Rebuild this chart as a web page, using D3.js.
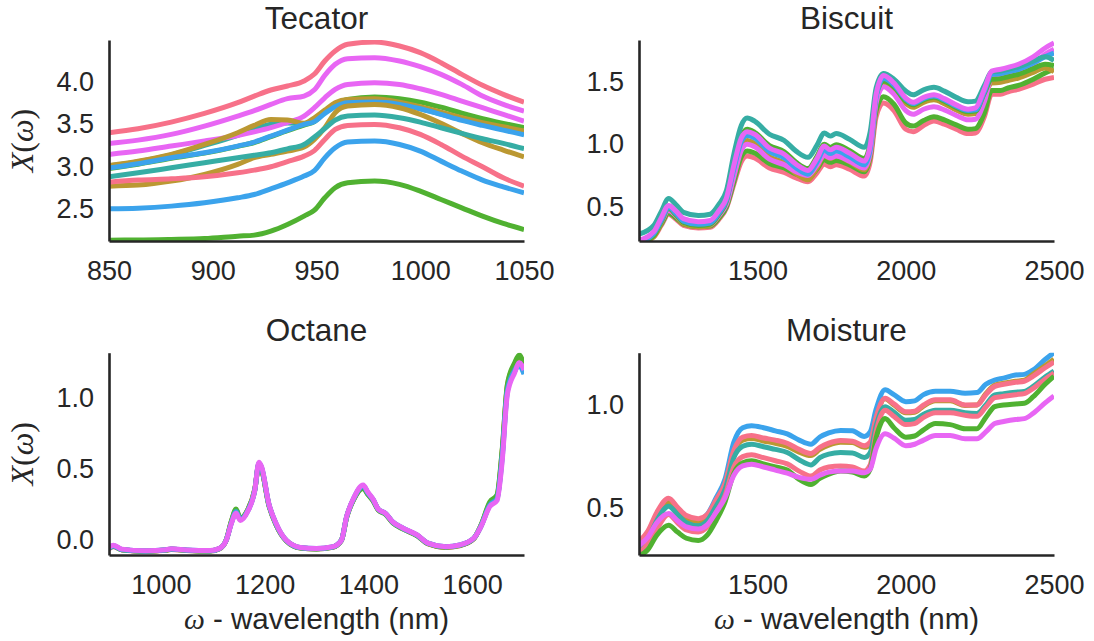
<!DOCTYPE html>
<html>
<head>
<meta charset="utf-8">
<script src="https://cdn.jsdelivr.net/npm/d3@7"></script>
<style>
  body { margin: 0; background: #fff; }
  svg { display: block; }
  text { fill: #262626; font-family: "Liberation Sans", Arial, sans-serif; }
</style>
</head>
<body>
<svg id="chart" width="1094" height="641"></svg>
<script>
// husl palette, six hues
const palette = {
  red: "#f77189", olive: "#bb9832", green: "#50b131",
  teal: "#36ada4", blue: "#3ba3ec", magenta: "#e866f4"
};

// ---------------- Tecator (850-1050 nm) ----------------
const tecatorWavelengths = [850, 864, 880, 896, 912, 920, 928, 936, 944, 949, 954, 959, 965, 978, 990, 1000, 1010, 1020, 1030, 1040, 1050];
const tecatorTealA  = [3.01, 3.06, 3.14, 3.25, 3.37, 3.44, 3.50, 3.515, 3.505, 3.55, 3.64, 3.72, 3.76, 3.765, 3.73, 3.68, 3.62, 3.555, 3.495, 3.44, 3.385];
const tecatorGreenA = [2.98, 3.03, 3.10, 3.16, 3.24, 3.285, 3.355, 3.425, 3.49, 3.53, 3.64, 3.73, 3.79, 3.82, 3.80, 3.76, 3.70, 3.63, 3.565, 3.51, 3.459];
const tecatorRedA   = [3.40, 3.447, 3.525, 3.627, 3.753, 3.83, 3.902, 3.949, 4.008, 4.09, 4.243, 4.361, 4.439, 4.466, 4.419, 4.341, 4.223, 4.086, 3.957, 3.851, 3.76];
const tecatorMagA   = [3.274, 3.313, 3.38, 3.478, 3.596, 3.66, 3.733, 3.80, 3.831, 3.905, 4.074, 4.204, 4.27, 4.282, 4.243, 4.176, 4.086, 3.968, 3.831, 3.733, 3.655];
const tecatorMagB   = [3.145, 3.184, 3.243, 3.302, 3.368, 3.41, 3.459, 3.52, 3.596, 3.694, 3.811, 3.909, 3.968, 3.988, 3.968, 3.917, 3.851, 3.772, 3.694, 3.615, 3.537];
const tecatorOliveA = [3.015, 3.066, 3.145, 3.262, 3.40, 3.486, 3.555, 3.55, 3.51, 3.576, 3.666, 3.753, 3.792, 3.80, 3.76, 3.706, 3.643, 3.576, 3.517, 3.47, 3.42];
const tecatorBlueA  = [2.984, 3.035, 3.105, 3.164, 3.243, 3.29, 3.36, 3.43, 3.498, 3.53, 3.627, 3.706, 3.753, 3.76, 3.733, 3.682, 3.615, 3.545, 3.486, 3.431, 3.376];
const tecatorOliveB = [2.772, 2.784, 2.831, 2.909, 3.027, 3.106, 3.145, 3.184, 3.231, 3.321, 3.458, 3.635, 3.713, 3.733, 3.694, 3.615, 3.51, 3.392, 3.282, 3.196, 3.117];
const tecatorTealB  = [2.882, 2.929, 2.988, 3.047, 3.106, 3.135, 3.164, 3.21, 3.262, 3.35, 3.45, 3.549, 3.596, 3.608, 3.576, 3.525, 3.458, 3.392, 3.329, 3.274, 3.212];
const tecatorRedB   = [2.819, 2.843, 2.858, 2.882, 2.929, 2.96, 3.0, 3.06, 3.125, 3.19, 3.321, 3.439, 3.486, 3.498, 3.458, 3.38, 3.262, 3.125, 3.0, 2.87, 2.772];
const tecatorBlueB  = [2.505, 2.513, 2.537, 2.576, 2.635, 2.674, 2.741, 2.811, 2.89, 2.955, 3.105, 3.223, 3.29, 3.302, 3.262, 3.184, 3.066, 2.949, 2.843, 2.764, 2.694];
const tecatorGreenB = [2.137, 2.138, 2.145, 2.156, 2.184, 2.196, 2.243, 2.321, 2.419, 2.49, 2.635, 2.753, 2.811, 2.831, 2.792, 2.713, 2.615, 2.517, 2.419, 2.333, 2.262];
const tecatorSpectra = [tecatorTealA, tecatorGreenA, tecatorRedA, tecatorMagA, tecatorMagB, tecatorOliveA, tecatorBlueA, tecatorOliveB, tecatorTealB, tecatorRedB, tecatorBlueB, tecatorGreenB];
const tecatorColors  = ["teal", "green", "red", "magenta", "magenta", "olive", "blue", "olive", "teal", "red", "blue", "green"];
const tecatorXTicks = [850, 900, 950, 1000, 1050];
const tecatorYTicks = [2.5, 3.0, 3.5, 4.0];

// ---------------- Biscuit (1100-2500 nm) ----------------
const biscuitWavelengths = [1100, 1150, 1175, 1200, 1225, 1250, 1300, 1340, 1370, 1395, 1420, 1445, 1465, 1490, 1540, 1590, 1630, 1670, 1700, 1725, 1745, 1765, 1810, 1860, 1880, 1900, 1925, 1960, 2000, 2025, 2060, 2095, 2130, 2170, 2210, 2235, 2265, 2290, 2320, 2345, 2380, 2430, 2470, 2500];
const biscuitRed    = [0.22, 0.26, 0.35, 0.44, 0.40, 0.35, 0.33, 0.335, 0.40, 0.49, 0.68, 0.86, 0.905, 0.89, 0.81, 0.775, 0.73, 0.70, 0.77, 0.84, 0.82, 0.835, 0.80, 0.745, 0.86, 1.22, 1.33, 1.27, 1.12, 1.10, 1.15, 1.185, 1.16, 1.12, 1.085, 1.09, 1.22, 1.40, 1.40, 1.42, 1.44, 1.48, 1.52, 1.535];
const biscuitGreenB = [0.225, 0.27, 0.36, 0.45, 0.41, 0.36, 0.34, 0.345, 0.41, 0.50, 0.70, 0.90, 0.945, 0.93, 0.845, 0.81, 0.76, 0.73, 0.80, 0.875, 0.855, 0.87, 0.835, 0.78, 0.90, 1.27, 1.38, 1.32, 1.17, 1.145, 1.19, 1.22, 1.195, 1.155, 1.12, 1.125, 1.25, 1.43, 1.43, 1.45, 1.47, 1.52, 1.57, 1.60];
const biscuitOlive  = [0.20, 0.26, 0.37, 0.475, 0.425, 0.365, 0.34, 0.35, 0.43, 0.535, 0.75, 0.97, 1.03, 1.005, 0.90, 0.85, 0.765, 0.715, 0.81, 0.91, 0.885, 0.905, 0.86, 0.795, 0.92, 1.36, 1.495, 1.44, 1.325, 1.295, 1.335, 1.355, 1.325, 1.275, 1.24, 1.245, 1.38, 1.49, 1.495, 1.51, 1.53, 1.575, 1.61, 1.58];
const biscuitMagB   = [0.23, 0.28, 0.38, 0.47, 0.43, 0.375, 0.355, 0.36, 0.43, 0.52, 0.74, 0.95, 1.0, 0.98, 0.88, 0.835, 0.78, 0.75, 0.83, 0.91, 0.89, 0.905, 0.865, 0.81, 0.93, 1.33, 1.46, 1.40, 1.27, 1.24, 1.28, 1.30, 1.275, 1.23, 1.195, 1.20, 1.34, 1.53, 1.54, 1.555, 1.58, 1.64, 1.72, 1.76];
const biscuitGreenA = [0.21, 0.27, 0.38, 0.485, 0.435, 0.375, 0.35, 0.36, 0.44, 0.545, 0.83, 1.06, 1.12, 1.095, 0.99, 0.94, 0.855, 0.805, 0.90, 1.0, 0.975, 0.995, 0.95, 0.885, 1.01, 1.39, 1.505, 1.46, 1.345, 1.315, 1.355, 1.375, 1.345, 1.295, 1.26, 1.265, 1.41, 1.52, 1.525, 1.54, 1.56, 1.605, 1.64, 1.63];
const biscuitBlue   = [0.215, 0.285, 0.39, 0.495, 0.445, 0.385, 0.36, 0.37, 0.45, 0.555, 0.80, 1.02, 1.07, 1.05, 0.94, 0.89, 0.81, 0.76, 0.855, 0.955, 0.925, 0.945, 0.90, 0.835, 0.96, 1.38, 1.525, 1.475, 1.36, 1.325, 1.365, 1.385, 1.355, 1.305, 1.27, 1.275, 1.42, 1.56, 1.565, 1.58, 1.60, 1.65, 1.70, 1.73];
const biscuitTeal   = [0.28, 0.35, 0.46, 0.565, 0.515, 0.455, 0.43, 0.44, 0.52, 0.63, 0.92, 1.15, 1.21, 1.185, 1.08, 1.03, 0.945, 0.895, 0.99, 1.09, 1.065, 1.085, 1.04, 0.975, 1.10, 1.45, 1.565, 1.52, 1.425, 1.395, 1.435, 1.455, 1.425, 1.375, 1.34, 1.345, 1.47, 1.58, 1.585, 1.60, 1.62, 1.665, 1.70, 1.67];
const biscuitMagA   = [0.23, 0.30, 0.41, 0.51, 0.465, 0.405, 0.38, 0.39, 0.47, 0.57, 0.83, 1.05, 1.10, 1.08, 0.97, 0.92, 0.84, 0.79, 0.885, 0.985, 0.955, 0.975, 0.93, 0.865, 0.99, 1.40, 1.55, 1.49, 1.37, 1.335, 1.375, 1.395, 1.365, 1.315, 1.28, 1.29, 1.44, 1.585, 1.60, 1.615, 1.64, 1.70, 1.77, 1.81];
const biscuitSpectra = [biscuitRed, biscuitGreenB, biscuitOlive, biscuitMagB, biscuitGreenA, biscuitBlue, biscuitTeal, biscuitMagA];
const biscuitColors  = ["red", "green", "olive", "magenta", "green", "blue", "teal", "magenta"];
const biscuitXTicks = [1500, 2000, 2500];
const biscuitYTicks = [0.5, 1.0, 1.5];

// ---------------- Octane (900-1700 nm) ----------------
const octaneWavelengths = [900, 908, 925, 970, 1010, 1020, 1050, 1095, 1113, 1126, 1136, 1145, 1153, 1167, 1181, 1189, 1194, 1208, 1222, 1242, 1269, 1300, 1331, 1348, 1358, 1372, 1390, 1399, 1409, 1419, 1433, 1447, 1467, 1494, 1515, 1549, 1576, 1603, 1617, 1634, 1648, 1658, 1668, 1682, 1691, 1700];
const octaneRed     = [-0.06, -0.045, -0.068, -0.078, -0.07, -0.065, -0.072, -0.076, -0.06, 0.0, 0.13, 0.21, 0.15, 0.21, 0.36, 0.53, 0.50, 0.25, 0.11, -0.005, -0.055, -0.062, -0.05, -0.002, 0.16, 0.29, 0.37, 0.325, 0.28, 0.215, 0.185, 0.125, 0.08, 0.033, -0.025, -0.05, -0.038, 0.01, 0.10, 0.25, 0.30, 0.62, 1.08, 1.22, 1.28, 1.21];
const octaneOlive   = [-0.055, -0.04, -0.066, -0.076, -0.068, -0.062, -0.07, -0.074, -0.058, 0.003, 0.135, 0.215, 0.152, 0.212, 0.36, 0.535, 0.505, 0.252, 0.112, -0.003, -0.053, -0.06, -0.048, 0.0, 0.162, 0.292, 0.372, 0.328, 0.282, 0.218, 0.187, 0.127, 0.082, 0.035, -0.022, -0.048, -0.036, 0.012, 0.105, 0.26, 0.31, 0.63, 1.09, 1.24, 1.30, 1.22];
const octaneGreen   = [-0.058, -0.042, -0.067, -0.077, -0.069, -0.063, -0.071, -0.075, -0.059, 0.002, 0.135, 0.22, 0.155, 0.21, 0.355, 0.53, 0.50, 0.25, 0.11, -0.004, -0.054, -0.061, -0.049, -0.001, 0.16, 0.29, 0.365, 0.322, 0.277, 0.213, 0.183, 0.123, 0.079, 0.032, -0.024, -0.049, -0.037, 0.011, 0.105, 0.27, 0.32, 0.64, 1.10, 1.25, 1.305, 1.22];
const octaneTeal    = [-0.056, -0.04, -0.066, -0.076, -0.068, -0.062, -0.07, -0.074, -0.058, 0.001, 0.125, 0.205, 0.148, 0.205, 0.352, 0.54, 0.51, 0.255, 0.115, -0.002, -0.052, -0.059, -0.047, 0.0, 0.163, 0.295, 0.38, 0.332, 0.286, 0.218, 0.188, 0.128, 0.083, 0.036, -0.021, -0.046, -0.034, 0.013, 0.10, 0.25, 0.295, 0.60, 1.06, 1.20, 1.24, 1.18];
const octaneBlue    = [-0.054, -0.038, -0.065, -0.075, -0.067, -0.061, -0.069, -0.073, -0.057, 0.001, 0.122, 0.198, 0.145, 0.203, 0.352, 0.545, 0.515, 0.258, 0.117, -0.001, -0.051, -0.058, -0.046, 0.001, 0.165, 0.298, 0.385, 0.335, 0.288, 0.22, 0.19, 0.13, 0.085, 0.037, -0.02, -0.045, -0.033, 0.014, 0.098, 0.245, 0.29, 0.58, 1.05, 1.19, 1.23, 1.17];
const octaneMagenta = [-0.05, -0.034, -0.062, -0.073, -0.066, -0.06, -0.068, -0.072, -0.057, 0.0, 0.12, 0.19, 0.14, 0.20, 0.35, 0.55, 0.52, 0.26, 0.12, 0.0, -0.05, -0.057, -0.045, 0.0, 0.166, 0.30, 0.39, 0.34, 0.29, 0.22, 0.19, 0.13, 0.085, 0.038, -0.02, -0.045, -0.033, 0.014, 0.096, 0.237, 0.28, 0.56, 1.03, 1.18, 1.25, 1.20];
const octaneSpectra = [octaneRed, octaneOlive, octaneGreen, octaneTeal, octaneBlue, octaneMagenta];
const octaneColors  = ["red", "olive", "green", "teal", "blue", "magenta"];
const octaneXTicks = [1000, 1200, 1400, 1600];
const octaneYTicks = [0.0, 0.5, 1.0];

// ---------------- Moisture (1100-2500 nm) ----------------
const moistureWavelengths = [1100, 1130, 1160, 1200, 1230, 1260, 1300, 1330, 1360, 1390, 1420, 1450, 1480, 1520, 1560, 1600, 1640, 1680, 1710, 1740, 1780, 1820, 1860, 1880, 1900, 1930, 1960, 2000, 2030, 2060, 2100, 2150, 2200, 2240, 2270, 2300, 2330, 2370, 2400, 2430, 2470, 2500];
const moistureBlue    = [0.33, 0.38, 0.47, 0.545, 0.50, 0.46, 0.445, 0.47, 0.55, 0.64, 0.82, 0.89, 0.90, 0.89, 0.875, 0.86, 0.83, 0.81, 0.845, 0.865, 0.877, 0.875, 0.848, 0.87, 0.98, 1.074, 1.05, 1.016, 1.02, 1.05, 1.066, 1.066, 1.057, 1.06, 1.10, 1.12, 1.13, 1.145, 1.148, 1.17, 1.22, 1.254];
const moistureOlive   = [0.325, 0.375, 0.465, 0.532, 0.49, 0.45, 0.435, 0.46, 0.53, 0.615, 0.775, 0.83, 0.838, 0.826, 0.815, 0.80, 0.772, 0.755, 0.785, 0.806, 0.82, 0.818, 0.795, 0.81, 0.935, 1.03, 1.0, 0.962, 0.965, 0.995, 1.02, 1.02, 0.998, 1.0, 1.055, 1.095, 1.105, 1.115, 1.12, 1.15, 1.19, 1.221];
const moistureRedA    = [0.34, 0.39, 0.48, 0.549, 0.505, 0.465, 0.45, 0.47, 0.54, 0.62, 0.78, 0.845, 0.852, 0.84, 0.83, 0.815, 0.785, 0.765, 0.795, 0.815, 0.828, 0.825, 0.803, 0.82, 0.94, 1.033, 1.005, 0.967, 0.97, 1.0, 1.025, 1.025, 1.0, 1.0, 1.05, 1.09, 1.10, 1.11, 1.115, 1.14, 1.18, 1.208];
const moistureTeal    = [0.30, 0.35, 0.44, 0.51, 0.47, 0.43, 0.415, 0.44, 0.51, 0.59, 0.745, 0.80, 0.81, 0.798, 0.785, 0.77, 0.735, 0.71, 0.745, 0.762, 0.77, 0.768, 0.746, 0.77, 0.90, 0.992, 0.965, 0.926, 0.93, 0.955, 0.975, 0.975, 0.962, 0.959, 1.0, 1.049, 1.055, 1.062, 1.066, 1.09, 1.135, 1.164];
const moistureRedB    = [0.28, 0.33, 0.40, 0.47, 0.43, 0.395, 0.385, 0.41, 0.48, 0.56, 0.70, 0.75, 0.759, 0.745, 0.73, 0.715, 0.68, 0.656, 0.685, 0.70, 0.705, 0.70, 0.68, 0.71, 0.87, 0.975, 0.945, 0.905, 0.91, 0.94, 0.962, 0.962, 0.95, 0.945, 0.99, 1.035, 1.042, 1.05, 1.055, 1.08, 1.125, 1.155];
const moistureGreen   = [0.27, 0.30, 0.37, 0.418, 0.385, 0.355, 0.344, 0.37, 0.44, 0.53, 0.67, 0.72, 0.73, 0.715, 0.70, 0.685, 0.64, 0.615, 0.645, 0.665, 0.68, 0.675, 0.656, 0.69, 0.84, 0.934, 0.89, 0.844, 0.85, 0.88, 0.91, 0.905, 0.885, 0.885, 0.94, 0.992, 1.0, 1.005, 1.008, 1.04, 1.10, 1.139];
const moistureMagenta = [0.32, 0.36, 0.43, 0.475, 0.44, 0.41, 0.40, 0.42, 0.48, 0.55, 0.66, 0.705, 0.713, 0.70, 0.685, 0.67, 0.65, 0.64, 0.66, 0.675, 0.68, 0.68, 0.672, 0.69, 0.79, 0.861, 0.84, 0.803, 0.81, 0.83, 0.852, 0.852, 0.836, 0.836, 0.87, 0.91, 0.92, 0.93, 0.934, 0.96, 1.01, 1.044];
const moistureSpectra = [moistureBlue, moistureOlive, moistureRedA, moistureTeal, moistureRedB, moistureGreen, moistureMagenta];
const moistureColors  = ["blue", "olive", "red", "teal", "red", "green", "magenta"];
const moistureXTicks = [1500, 2000, 2500];
const moistureYTicks = [0.5, 1.0];

// ---------------- layout ----------------
const panels = [
  { title: "Tecator",  wl: tecatorWavelengths,  spectra: tecatorSpectra,  colors: tecatorColors,
    xDomain: [850, 1050],  yDomain: [2.127, 4.49], xTicks: tecatorXTicks,  yTicks: tecatorYTicks,
    left: 109, right: 524, top: 40, bottom: 241, yLabel: true, xLabel: false },
  { title: "Biscuit",  wl: biscuitWavelengths,  spectra: biscuitSpectra,  colors: biscuitColors,
    xDomain: [1100, 2500], yDomain: [0.2256, 1.834], xTicks: biscuitXTicks,  yTicks: biscuitYTicks,
    left: 639, right: 1054, top: 40, bottom: 241, yLabel: false, xLabel: false },
  { title: "Octane",   wl: octaneWavelengths,   spectra: octaneSpectra,   colors: octaneColors,
    xDomain: [900, 1700],  yDomain: [-0.1035, 1.321], xTicks: octaneXTicks, yTicks: octaneYTicks,
    left: 109, right: 524, top: 352.7, bottom: 555, yLabel: true, xLabel: true },
  { title: "Moisture", wl: moistureWavelengths, spectra: moistureSpectra, colors: moistureColors,
    xDomain: [1100, 2500], yDomain: [0.274, 1.253], xTicks: moistureXTicks, yTicks: moistureYTicks,
    left: 639, right: 1054, top: 352.7, bottom: 555, yLabel: false, xLabel: true }
];

const svg = d3.select("#chart");
const fmt = d3.format(".1f");

panels.forEach((p, i) => {
  const x = d3.scaleLinear().domain(p.xDomain).range([p.left, p.right]);
  const y = d3.scaleLinear().domain(p.yDomain).range([p.bottom, p.top]);
  const g = svg.append("g");

  const clipId = "clip" + i;
  svg.append("clipPath").attr("id", clipId)
    .append("rect")
    .attr("x", p.left).attr("y", p.top)
    .attr("width", p.right - p.left).attr("height", p.bottom - p.top);

  const line = d3.line()
    .x((d, k) => x(p.wl[k]))
    .y(d => y(d))
    .curve(d3.curveMonotoneX);

  g.append("g").attr("clip-path", `url(#${clipId})`)
    .selectAll("path")
    .data(p.spectra)
    .join("path")
    .attr("d", line)
    .attr("fill", "none")
    .attr("stroke", (d, k) => palette[p.colors[k]])
    .attr("stroke-width", 5)
    .attr("stroke-linejoin", "round");

  const xAxis = g.append("g")
    .attr("transform", `translate(0,${p.bottom})`)
    .call(d3.axisBottom(x).tickValues(p.xTicks).tickSize(0).tickSizeOuter(0).tickPadding(20).tickFormat(d3.format("d")));
  const yAxis = g.append("g")
    .attr("transform", `translate(${p.left},0)`)
    .call(d3.axisLeft(y).tickValues(p.yTicks).tickSize(0).tickSizeOuter(0).tickPadding(15).tickFormat(fmt));

  [xAxis, yAxis].forEach(a => {
    a.select(".domain").attr("stroke", "#262626").attr("stroke-width", 2.6);
    a.selectAll("text").attr("font-size", 27)
      .attr("font-family", "'Liberation Sans', Arial, sans-serif").attr("fill", "#262626");
  });

  g.append("text")
    .attr("x", (p.left + p.right) / 2)
    .attr("y", p.top - 11.5)
    .attr("text-anchor", "middle")
    .attr("font-size", 31.5)
    .text(p.title);

  if (p.yLabel) {
    const t = g.append("text")
      .attr("transform", `translate(33,${(p.top + p.bottom) / 2}) rotate(-90)`)
      .attr("text-anchor", "middle")
      .attr("font-size", 32)
      .style("font-family", "'Liberation Serif', 'DejaVu Serif', serif");
    t.append("tspan").attr("font-style", "italic").text("X");
    t.append("tspan").text("(");
    t.append("tspan").attr("font-style", "italic").text("ω");
    t.append("tspan").text(")");
  }

  if (p.xLabel) {
    const t = g.append("text")
      .attr("x", (p.left + p.right) / 2)
      .attr("y", 629)
      .attr("text-anchor", "middle")
      .attr("font-size", 29.5);
    t.append("tspan").attr("font-style", "italic")
      .style("font-family", "'Liberation Serif', 'DejaVu Serif', serif").text("ω");
    t.append("tspan").text(" - wavelength (nm)");
  }
});
</script>
</body>
</html>
